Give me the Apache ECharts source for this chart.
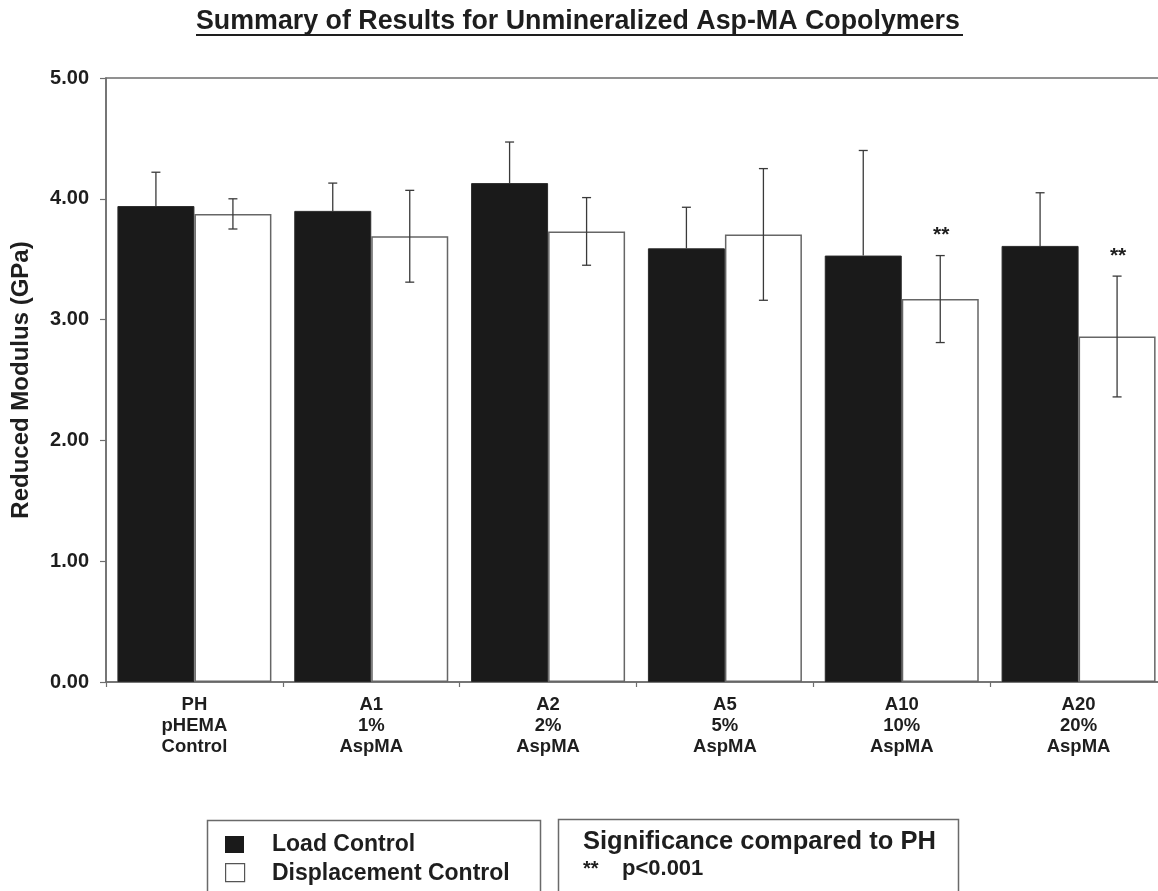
<!DOCTYPE html>
<html>
<head>
<meta charset="utf-8">
<script src="https://cdn.jsdelivr.net/npm/echarts@6/dist/echarts.min.js"></script>
<style>
  html, body { margin: 0; padding: 0; background: #fff; }
  #chart { width: 1158px; height: 891px; }
</style>
</head>
<body>
<div id="chart"></div>
<script>
// Group labels (code / composition / description)
const categories = [
  'PH\npHEMA\nControl',
  'A1\n1%\nAspMA',
  'A2\n2%\nAspMA',
  'A5\n5%\nAspMA',
  'A10\n10%\nAspMA',
  'A20\n20%\nAspMA'
];

// Reduced modulus (GPa), mean and standard deviation
const loadMean = [3.94, 3.90, 4.13, 3.59, 3.53, 3.61];
const loadErr  = [0.28, 0.23, 0.34, 0.34, 0.87, 0.44];
const dispMean = [3.875, 3.69, 3.73, 3.705, 3.17, 2.86];
const dispErr  = [0.125, 0.38, 0.28, 0.545, 0.36, 0.50];

// Significance markers vs. PH (displacement control)
const dispSig = ['', '', '', '', '**', '**'];

// Y axis range and step
const yMin = 0, yMax = 5, yStep = 1;

const FONT = '"Liberation Sans", Arial, sans-serif';
const TEXT = '#1e1e1e';
const BAR_W = 77;

function errorSeries(means, errs, side, showLower, marks) {
  return {
    type: 'custom',
    z: 5,
    silent: true,
    data: means.map((m, i) => [i, m, errs[i]]),
    renderItem(params, api) {
      const i = api.value(0), m = api.value(1), e = api.value(2);
      const cx = api.coord([i, m])[0] + side * BAR_W / 2;
      const yTop = api.coord([i, m + e])[1];
      const yMid = api.coord([i, m])[1];
      const yBot = showLower ? api.coord([i, m - e])[1] : yMid;
      const cap = 4.5;
      const ls = { stroke: '#3a3a3a', lineWidth: 1.3 };
      const children = [
        { type: 'line', shape: { x1: cx, y1: yTop, x2: cx, y2: yBot }, style: ls },
        { type: 'line', shape: { x1: cx - cap, y1: yTop, x2: cx + cap, y2: yTop }, style: ls }
      ];
      if (showLower) {
        children.push({ type: 'line', shape: { x1: cx - cap, y1: yBot, x2: cx + cap, y2: yBot }, style: ls });
      }
      if (marks && marks[i]) {
        children.push({
          type: 'text',
          style: {
            text: marks[i], x: cx + 1, y: yTop - 20,
            align: 'center', verticalAlign: 'middle',
            font: 'bold 21px ' + FONT, fill: TEXT
          }
        });
      }
      return { type: 'group', children };
    }
  };
}

const chart = echarts.init(document.getElementById('chart'));

chart.setOption({
  animation: false,
  backgroundColor: '#fff',
  grid: {
    left: 106, top: 78, width: 1061, bottom: 209,
    outerBoundsMode: 'none',
    show: true, borderColor: '#6e6e6e', borderWidth: 1.5,
    backgroundColor: 'transparent'
  },
  xAxis: {
    type: 'category',
    data: categories,
    axisLine: { lineStyle: { color: '#6e6e6e', width: 1.5 } },
    axisTick: { show: true, length: 5, lineStyle: { color: '#6e6e6e', width: 1.2 } },
    axisLabel: {
      margin: 12, fontFamily: FONT, fontWeight: 'bold', fontSize: 18.5,
      lineHeight: 21, color: TEXT, align: 'center'
    }
  },
  yAxis: {
    type: 'value',
    min: yMin, max: yMax, interval: yStep,
    name: 'Reduced Modulus (GPa)',
    nameLocation: 'middle',
    nameGap: 73,
    nameRotate: 90,
    nameTextStyle: { fontFamily: FONT, fontWeight: 'bold', fontSize: 24, color: TEXT },
    axisLine: { show: true, lineStyle: { color: '#6e6e6e', width: 1.5 } },
    axisTick: { show: true, length: 6, lineStyle: { color: '#6e6e6e', width: 1.2 } },
    splitLine: { show: false },
    axisLabel: {
      margin: 17, fontFamily: FONT, fontWeight: 'bold', fontSize: 20, color: TEXT,
      formatter: v => v.toFixed(2)
    }
  },
  series: [
    {
      name: 'Load Control',
      type: 'bar',
      data: loadMean,
      barWidth: BAR_W,
      barGap: '0%',
      itemStyle: { color: '#1a1a1a', borderColor: '#2a2a2a', borderWidth: 1 }
    },
    {
      name: 'Displacement Control',
      type: 'bar',
      data: dispMean,
      barWidth: BAR_W,
      barGap: '0%',
      itemStyle: { color: '#ffffff', borderColor: '#666', borderWidth: 1.5 }
    },
    errorSeries(loadMean, loadErr, -1, false, null),
    errorSeries(dispMean, dispErr, 1, true, dispSig)
  ],
  graphic: [
    // title with underline
    {
      type: 'group', left: 196, top: 8,
      children: [
        {
          type: 'text', left: 0, top: 0,
          style: {
            text: 'Summary of Results for Unmineralized Asp-MA Copolymers',
            font: 'bold 26.8px ' + FONT, fill: TEXT
          }
        },
        {
          type: 'rect', left: 0, top: 26,
          shape: { width: 767, height: 2 },
          style: { fill: TEXT }
        }
      ]
    },
    // series key
    {
      type: 'rect', left: 205, top: 818,
      shape: { width: 333, height: 90 },
      style: { fill: 'none', stroke: '#6a6a6a', lineWidth: 1.5 }
    },
    {
      type: 'rect', left: 225, top: 836,
      shape: { width: 19, height: 17 },
      style: { fill: '#1a1a1a' }
    },
    {
      type: 'rect', left: 225, top: 863,
      shape: { width: 19, height: 18 },
      style: { fill: '#fff', stroke: '#555', lineWidth: 1.2 }
    },
    {
      type: 'text', left: 272, top: 833,
      style: { text: 'Load Control', font: 'bold 23px ' + FONT, fill: TEXT }
    },
    {
      type: 'text', left: 272, top: 862,
      style: { text: 'Displacement Control', font: 'bold 23px ' + FONT, fill: TEXT }
    },
    // significance key
    {
      type: 'rect', left: 556, top: 817,
      shape: { width: 400, height: 90 },
      style: { fill: 'none', stroke: '#6a6a6a', lineWidth: 1.5 }
    },
    {
      type: 'text', left: 583, top: 829,
      style: { text: 'Significance compared to PH', font: 'bold 25.5px ' + FONT, fill: TEXT }
    },
    {
      type: 'text', left: 583, top: 859,
      style: { text: '**', font: 'bold 20px ' + FONT, fill: TEXT }
    },
    {
      type: 'text', left: 622, top: 858,
      style: { text: 'p<0.001', font: 'bold 22px ' + FONT, fill: TEXT }
    }
  ]
});
</script>
</body>
</html>
